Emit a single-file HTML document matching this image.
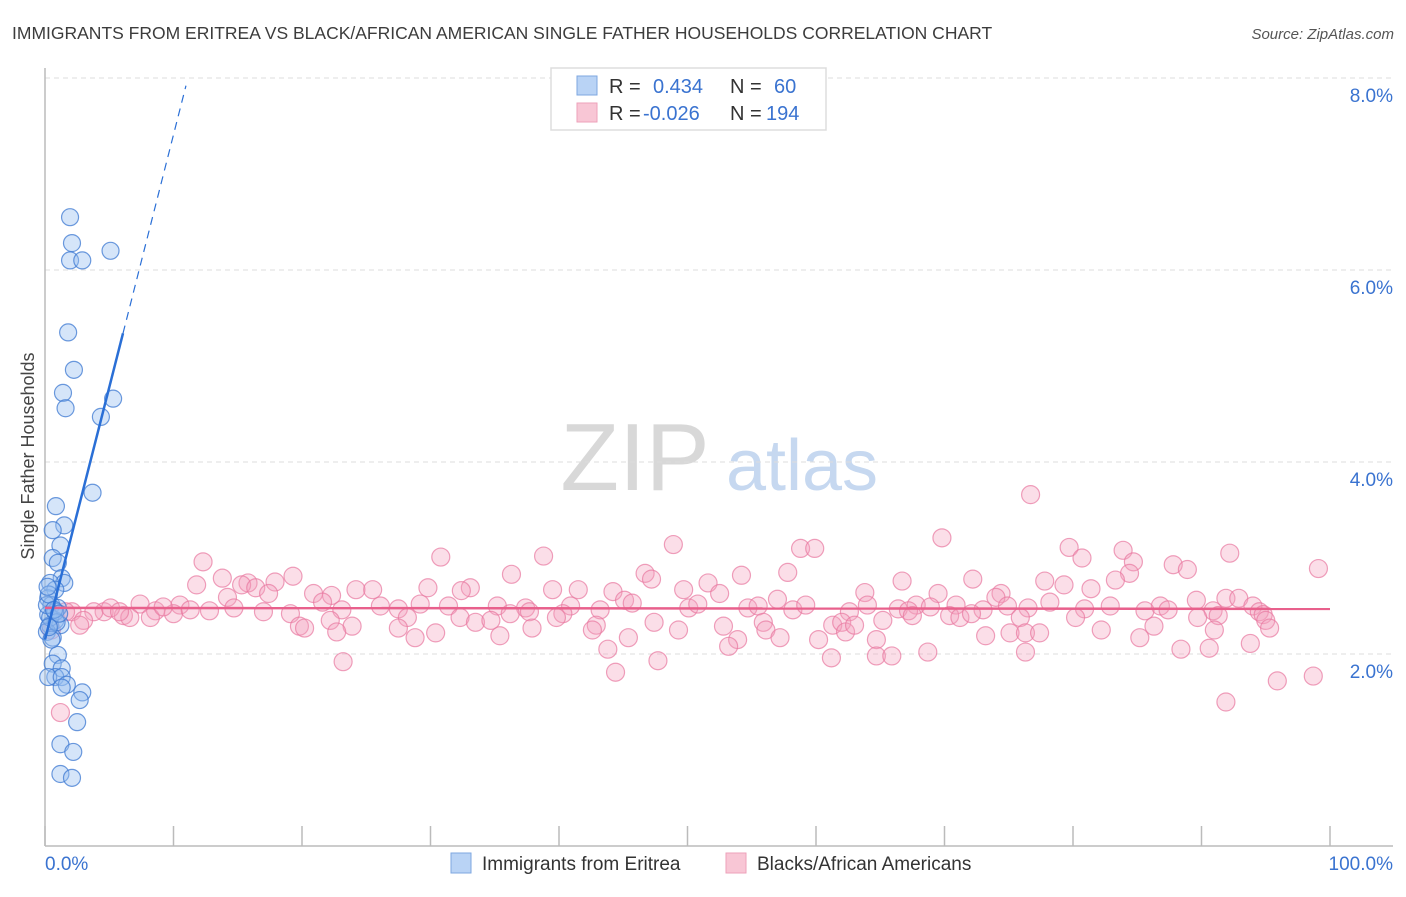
<!DOCTYPE html>
<html><head><meta charset="utf-8"><style>
body{margin:0;background:#fff;font-family:"Liberation Sans",sans-serif;}
svg text{font-family:"Liberation Sans",sans-serif;}
</style></head><body>
<svg id="chart" width="1406" height="892" xmlns="http://www.w3.org/2000/svg">
<text x="12" y="39" font-size="17.5" fill="#3c3c3c">IMMIGRANTS FROM ERITREA VS BLACK/AFRICAN AMERICAN SINGLE FATHER HOUSEHOLDS CORRELATION CHART</text>
<text x="1394" y="39" font-size="15" fill="#555" text-anchor="end" font-style="italic">Source: ZipAtlas.com</text>
<text transform="translate(34,456) rotate(-90)" font-size="18" fill="#444" text-anchor="middle">Single Father Households</text>
<g>
<text x="635" y="490" font-size="96" fill="#d8d8d8" font-family="Liberation Serif" text-anchor="middle">ZIP</text>
<text x="802" y="490" font-size="72" fill="#c6d8f0" text-anchor="middle">atlas</text>
</g>
<g id="grid"></g>
<g id="marks"></g>
<g>
<rect x="551" y="68" width="275" height="62" fill="#fff" stroke="#ddd" stroke-width="1.5"/>
<rect x="577" y="76" width="20" height="19" fill="#b9d3f5" stroke="#7ea7e0"/>
<rect x="577" y="103" width="20" height="19" fill="#f8c6d5" stroke="#eea1ba"/>
<text x="609" y="93" font-size="20" fill="#333">R =</text>
<text x="653" y="93" font-size="20" fill="#3a73d0">0.434</text>
<text x="730" y="93" font-size="20" fill="#333">N =</text>
<text x="774" y="93" font-size="20" fill="#3a73d0">60</text>
<text x="609" y="120" font-size="20" fill="#333">R =</text>
<text x="643" y="120" font-size="20" fill="#3a73d0">-0.026</text>
<text x="730" y="120" font-size="20" fill="#333">N =</text>
<text x="766" y="120" font-size="20" fill="#3a73d0">194</text>
</g>
<g>
<rect x="451" y="853" width="20" height="20" fill="#b9d3f5" stroke="#7ea7e0"/>
<text x="482" y="870" font-size="19" fill="#333">Immigrants from Eritrea</text>
<rect x="726" y="853" width="20" height="20" fill="#f8c6d5" stroke="#eea1ba"/>
<text x="757" y="870" font-size="19" fill="#333">Blacks/African Americans</text>
</g>
</svg>
<script>
const yTicks=[2,4,6,8];
const yTickLabels=["2.0%","4.0%","6.0%","8.0%"];
const xTicks=[0,10,20,30,40,50,60,70,80,90,100];
const blueX=[1.95,2.1,1.95,2.9,5.1,1.8,2.25,1.4,1.6,4.35,5.3,3.7,0.85,1.5,0.6,1.2,0.6,1.0,1.3,1.5,0.4,0.8,0.25,0.5,1.0,0.25,0.8,0.4,1.2,0.15,0.6,1.0,0.6,1.3,0.8,0.25,1.3,1.7,1.3,2.9,2.7,2.5,1.2,2.2,1.2,2.1,0.4,0.8,0.15,0.5,0.3,0.9,0.2,0.7,1.1,0.3];
const blueY=[6.55,6.28,6.1,6.1,6.2,5.35,4.96,4.72,4.56,4.47,4.66,3.68,3.54,3.34,3.29,3.13,3.0,2.95,2.79,2.74,2.74,2.67,2.58,2.51,2.48,2.41,2.35,2.3,2.3,2.23,2.17,1.99,1.9,1.85,1.76,1.76,1.76,1.68,1.65,1.6,1.52,1.29,1.06,0.98,0.75,0.71,2.38,2.44,2.51,2.15,2.62,2.33,2.7,2.46,2.42,2.28];
const pinkX=[76.7,69.8,48.9,79.7,83.9,92.2,58.8,59.9,38.8,30.8,80.7,84.7,12.3,99.1,87.8,88.9,46.7,57.8,36.3,84.4,54.2,19.3,13.8,47.2,83.3,77.8,72.2,66.7,51.6,15.8,17.9,15.3,16.4,11.8,33.1,29.8,39.5,24.2,25.5,44.2,49.7,52.5,22.3,20.9,32.4,41.5,63.8,69.5,74.4,74.0,81.4,79.3,91.9,92.9,89.6,67.8,57.0,17.4,14.2,7.4,10.5,8.6,10.0,6.1,4.6,3.8,2.1,3.0,12.8,14.7,17.0,19.1,21.6,23.1,26.1,27.5,29.2,31.4,35.2,37.4,40.9,43.2,45.1,45.7,50.1,50.8,54.7,55.5,58.2,59.2,62.6,64.0,66.4,67.2,68.9,70.9,73.0,74.9,76.5,78.2,80.9,82.9,86.8,87.4,94.0,94.5,90.9,85.6,32.3,36.2,37.7,40.3,22.2,19.8,20.2,23.9,28.2,33.5,34.7,39.8,42.9,47.4,52.8,55.9,61.3,62.0,65.2,67.5,70.4,71.2,72.1,75.9,80.2,89.7,91.3,94.8,95.0,22.7,27.5,28.8,30.4,35.4,37.9,42.6,49.3,56.1,62.3,63.0,75.1,76.3,77.4,82.2,86.3,95.3,91.0,45.4,53.9,57.2,60.2,73.2,53.2,64.7,85.2,93.8,43.8,88.4,90.6,23.2,64.7,65.9,68.7,76.3,61.2,47.7,44.4,95.9,98.7,91.9,1.2,1.6,2.7,0.5,5.1,6.6,8.2,5.8,11.3,9.2];
const pinkY=[3.66,3.21,3.14,3.11,3.08,3.05,3.10,3.10,3.02,3.01,3.0,2.96,2.96,2.89,2.93,2.88,2.84,2.85,2.83,2.84,2.82,2.81,2.79,2.78,2.77,2.76,2.78,2.76,2.74,2.74,2.75,2.72,2.69,2.72,2.69,2.69,2.67,2.67,2.67,2.65,2.67,2.63,2.61,2.63,2.66,2.67,2.64,2.63,2.63,2.59,2.68,2.72,2.58,2.58,2.56,2.51,2.57,2.63,2.59,2.52,2.51,2.45,2.42,2.40,2.44,2.44,2.44,2.35,2.45,2.48,2.44,2.42,2.54,2.46,2.50,2.47,2.52,2.50,2.50,2.48,2.50,2.46,2.56,2.53,2.48,2.52,2.48,2.50,2.46,2.51,2.44,2.51,2.47,2.45,2.49,2.51,2.46,2.50,2.48,2.54,2.47,2.50,2.50,2.46,2.50,2.44,2.45,2.45,2.38,2.42,2.44,2.42,2.35,2.29,2.27,2.29,2.38,2.33,2.35,2.38,2.30,2.33,2.29,2.33,2.30,2.33,2.35,2.40,2.40,2.38,2.42,2.38,2.38,2.38,2.40,2.41,2.35,2.23,2.27,2.17,2.22,2.19,2.27,2.25,2.25,2.25,2.23,2.30,2.22,2.22,2.22,2.25,2.29,2.27,2.25,2.17,2.15,2.17,2.15,2.19,2.08,2.15,2.17,2.11,2.05,2.05,2.06,1.92,1.98,1.98,2.02,2.02,1.96,1.93,1.81,1.72,1.77,1.50,1.39,2.44,2.30,2.25,2.48,2.38,2.38,2.44,2.46,2.49,2.48];
const blueTrend=[[0,2.15],[6.07,5.34],[10.97,7.92]];
const pinkTrend=[[0,2.48],[100,2.47]];

const NS="http://www.w3.org/2000/svg";
const X0=45,X1=1330,Y0=846,PPY=96;
function sx(v){return X0+v*(X1-X0)/100;}
function sy(v){return Y0-v*PPY;}
function mk(tag,attrs,parent){const e=document.createElementNS(NS,tag);for(const k in attrs)e.setAttribute(k,attrs[k]);parent.appendChild(e);return e;}
const grid=document.getElementById('grid'),marks=document.getElementById('marks');
yTicks.forEach((t,i)=>{
 const l=mk('line',{x1:45,x2:1393,y1:sy(t),y2:sy(t),stroke:'#ddd','stroke-dasharray':'5,4'},grid);
 
 
 const tx=mk('text',{x:1393,y:sy(t)+24,'font-size':19,fill:'#3a73d0','text-anchor':'end'},grid);
 tx.textContent=yTickLabels[i];
 
 
});
const ax=mk('line',{x1:45,x2:45,y1:68,y2:846,stroke:'#bbb','stroke-width':1.5},grid);


const bx=mk('line',{x1:45,x2:1393,y1:846,y2:846,stroke:'#bbb','stroke-width':1.5},grid);


xTicks.forEach(t=>{
 const l=mk('line',{x1:sx(t),x2:sx(t),y1:826,y2:846,stroke:'#bbb','stroke-width':1.5},grid);
 
 
});
const xl0=mk('text',{x:45,y:870,'font-size':19,fill:'#3a73d0'},grid);xl0.textContent='0.0%';


const xl1=mk('text',{x:1393,y:870,'font-size':19,fill:'#3a73d0','text-anchor':'end'},grid);xl1.textContent='100.0%';



pinkX.forEach((v,i)=>{
 const c=mk('circle',{cx:sx(v),cy:sy(pinkY[i]),r:9,fill:'rgba(244,160,188,0.35)',stroke:'rgba(232,120,160,0.7)','stroke-width':1.2},marks);
 
 
});
blueX.forEach((v,i)=>{
 const c=mk('circle',{cx:sx(v),cy:sy(blueY[i]),r:8.5,fill:'rgba(150,190,240,0.4)',stroke:'rgba(60,120,210,0.75)','stroke-width':1.2},marks);
 
 
});
const pt=mk('line',{x1:sx(pinkTrend[0][0]),y1:sy(pinkTrend[0][1]),x2:sx(pinkTrend[1][0]),y2:sy(pinkTrend[1][1]),stroke:'#e8608c','stroke-width':2.5},marks);


const bt=mk('line',{x1:sx(blueTrend[0][0]),y1:sy(blueTrend[0][1]),x2:sx(blueTrend[1][0]),y2:sy(blueTrend[1][1]),stroke:'#2a6fd6','stroke-width':2.5},marks);


const bd=mk('line',{x1:sx(blueTrend[1][0]),y1:sy(blueTrend[1][1]),x2:sx(blueTrend[2][0]),y2:sy(blueTrend[2][1]),stroke:'#2a6fd6','stroke-width':1.2,'stroke-dasharray':'8,6'},marks);


</script>
</body></html>
